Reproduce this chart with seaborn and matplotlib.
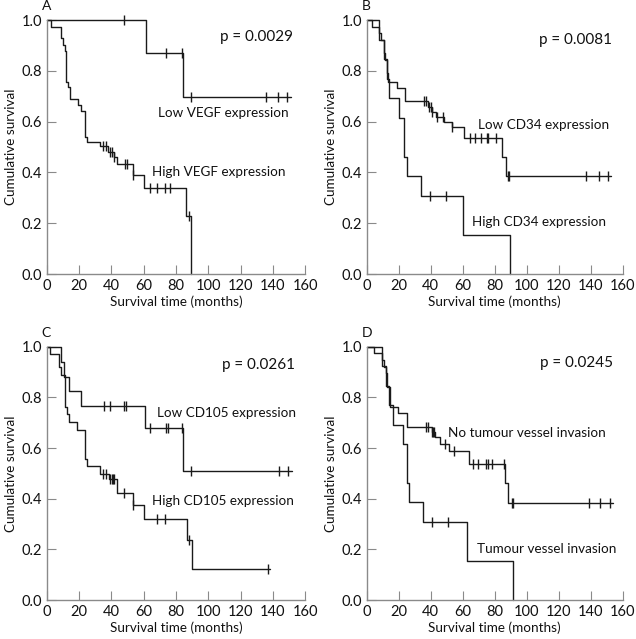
import numpy as np
import pandas as pd
import matplotlib
matplotlib.use("Agg")
import matplotlib.pyplot as plt
import seaborn as sns

# ---------------- data ----------------
# Panel A
a_low_t = [61.3, 84.6]
a_low_s = [0.87, 0.695]
a_low_c = [48, 74, 83.6, 89.4, 135.8, 143.4, 148.6]
a_low_end = 151
a_high_t = [2.9, 8.6, 10.3, 11.3, 11.9, 13.2, 14.4, 19.6, 21.0, 23.7, 24.7, 33.0,
            38.2, 41.5, 43.3, 53.6, 60.2, 86.0, 89.3]
a_high_s = [0.974, 0.93, 0.90, 0.876, 0.757, 0.738, 0.69, 0.665, 0.64, 0.54, 0.52,
            0.505, 0.48, 0.46, 0.433, 0.39, 0.337, 0.228, 0.0]
a_high_c = [35, 36.5, 39.5, 40.5, 41.5, 48.5, 49.9, 53.6, 64, 68.5, 73, 76.4, 88]
a_high_end = 89.3

# Panel B
b_low_t = [3.5, 7.7, 9.0, 10.5, 11.5, 12.5, 13.5, 18.75, 23.9, 38, 41, 43.5, 48,
           53.5, 60.8, 84.4, 87.0]
b_low_s = [0.974, 0.947, 0.92, 0.87, 0.842, 0.79, 0.755, 0.733, 0.683, 0.659, 0.639,
           0.62, 0.60, 0.58, 0.537, 0.46, 0.384]
b_low_c = [35.5, 37, 39, 40, 41, 44, 47.7, 53.5, 64.8, 67.9, 71.7, 74.9, 76, 80.6,
           88.5, 89.1, 137, 145, 151]
b_low_end = 152.7
b_high_t = [7.7, 11.0, 12.5, 14.0, 20.2, 23.5, 25.0, 34.0, 60.4, 89.6]
b_high_s = [0.923, 0.846, 0.769, 0.692, 0.615, 0.462, 0.385, 0.308, 0.154, 0.0]
b_high_c = [39.5, 49.4]
b_high_end = 89.6

# Panel C
c_low_t = [9.0, 10.7, 13.8, 21.0, 61.0, 84.6]
c_low_s = [0.941, 0.882, 0.824, 0.765, 0.68, 0.51]
c_low_c = [35.5, 39.2, 47.9, 48.9, 64, 73.9, 75.3, 83.6, 89.3, 144, 149.6]
c_low_end = 152
c_high_t = [2.0, 7.6, 9.1, 11.1, 12.4, 13.8, 18.6, 23.5, 24.7, 32.8, 38.4, 43.5,
            53.4, 60.2, 86.7, 89.8]
c_high_s = [0.973, 0.92, 0.89, 0.762, 0.735, 0.703, 0.67, 0.558, 0.529, 0.499, 0.478,
            0.421, 0.375, 0.32, 0.237, 0.121]
c_high_c = [34.6, 36.5, 39.4, 40.2, 41.0, 41.7, 47.6, 53.4, 68.5, 73.3, 88.3, 136.8]
c_high_end = 138.3

# Panel D
d_no_t = [4.6, 9.8, 10.8, 11.9, 12.9, 14.5, 19.8, 25.0, 40.5, 42.7, 45.5, 51.5,
          63.8, 86.4, 88.1]
d_no_s = [0.974, 0.947, 0.921, 0.895, 0.84, 0.763, 0.737, 0.684, 0.664, 0.644,
          0.616, 0.59, 0.537, 0.463, 0.384]
d_no_c = [37, 38.5, 40.6, 41.5, 42.3, 48.9, 54.6, 66.6, 69.8, 74.6, 76, 78.1, 85.8,
          90.6, 91.2, 139, 145.8, 152]
d_no_end = 154
d_inv_t = [9.8, 12.0, 13.9, 16.6, 22.9, 25.0, 26.6, 35.4, 62.5, 91.2]
d_inv_s = [0.923, 0.846, 0.769, 0.692, 0.615, 0.46, 0.386, 0.307, 0.154, 0.0]
d_inv_c = [41, 50.6]
d_inv_end = 91.2

panel_letters = ["A", "B", "C", "D"]
p_values = ["p = 0.0029", "p = 0.0081", "p = 0.0261", "p = 0.0245"]
labels_upper = ["Low VEGF expression", "Low CD34 expression",
                "Low CD105 expression", "No tumour vessel invasion"]
labels_lower = ["High VEGF expression", "High CD34 expression",
                "High CD105 expression", "Tumour vessel invasion"]
x_ticks = [0, 20, 40, 60, 80, 100, 120, 140, 160]
y_ticks = [0.0, 0.2, 0.4, 0.6, 0.8, 1.0]

# ---------------- styling ----------------
sns.set_theme(style="ticks")
plt.rcParams["font.family"] = ["Lato", "DejaVu Sans"]
LINE = "#1a1a1a"
SPINE = "#8a8a8a"
TXT = "#111111"
FS = 9.7

W, H = 636, 639
fig = plt.figure(figsize=(W / 100, H / 100), dpi=100)


def make_ax(left, top, bottom, width):
    return fig.add_axes([left / W, (H - bottom) / H, width / W, (bottom - top) / H])


axes = [
    make_ax(46.7, 20, 274, 258.4),
    make_ax(366.7, 20, 274, 256.0),
    make_ax(46.7, 346.7, 600, 258.4),
    make_ax(366.7, 346.7, 600, 256.0),
]


def km(ax, times, surv, cens, end):
    t = [0.0] + list(times)
    s = [1.0] + list(surv)
    if end > t[-1]:
        t.append(end)
        s.append(s[-1])
    df = pd.DataFrame({"t": t, "s": s})
    n0 = len(ax.lines)
    sns.lineplot(data=df, x="t", y="s", drawstyle="steps-post", estimator=None,
                 sort=False, color=LINE, linewidth=1.0, ax=ax)
    for ln in ax.lines[n0:]:
        ln.set_clip_on(False)
    idx = np.searchsorted(np.array(t), np.array(cens), side="right") - 1
    cy = np.array(s)[idx]
    cdf = pd.DataFrame({"t": cens, "s": cy})
    sns.scatterplot(data=cdf, x="t", y="s", marker="|", s=55, linewidth=1.0,
                    color=LINE, ax=ax)
    for c in ax.collections:
        c.set_clip_on(False)


curves = [
    ((a_low_t, a_low_s, a_low_c, a_low_end), (a_high_t, a_high_s, a_high_c, a_high_end)),
    ((b_low_t, b_low_s, b_low_c, b_low_end), (b_high_t, b_high_s, b_high_c, b_high_end)),
    ((c_low_t, c_low_s, c_low_c, c_low_end), (c_high_t, c_high_s, c_high_c, c_high_end)),
    ((d_no_t, d_no_s, d_no_c, d_no_end), (d_inv_t, d_inv_s, d_inv_c, d_inv_end)),
]

# text positions (data coords)
p_pos = [(152.7, 0.932), (153.5, 0.921), (153.7, 0.928), (154, 0.934)]
up_pos = [(69.1, 0.633), (69.4, 0.587), (68.1, 0.737), (50.6, 0.658)]
lo_pos = [(65.0, 0.40), (65.6, 0.206), (65.0, 0.392), (68.8, 0.20)]

for i, ax in enumerate(axes):
    for cv in curves[i]:
        km(ax, *cv)
    ax.set_xlim(0, 160)
    ax.set_ylim(0, 1)
    ax.set_xticks(x_ticks)
    ax.set_xticklabels([str(v) for v in x_ticks])
    ax.set_yticks(y_ticks)
    ax.set_yticklabels([f"{v:.1f}" for v in y_ticks])
    ax.tick_params(direction="in", length=6.5, width=0.8, color=SPINE,
                   labelsize=10.5, pad=3.5, labelcolor=TXT)
    for side in ["top", "right"]:
        ax.spines[side].set_visible(False)
    for side in ["left", "bottom"]:
        ax.spines[side].set_color(SPINE)
        ax.spines[side].set_linewidth(1.0)
    ax.set_xlabel("Survival time (months)", fontsize=FS, labelpad=2, color=TXT)
    ax.set_ylabel("Cumulative survival", fontsize=FS, labelpad=3, color=TXT)
    ax.text(p_pos[i][0], p_pos[i][1], p_values[i], ha="right", va="center",
            fontsize=11, color=TXT)
    ax.text(up_pos[i][0], up_pos[i][1], labels_upper[i], ha="left", va="center",
            fontsize=FS, color=TXT)
    ax.text(lo_pos[i][0], lo_pos[i][1], labels_lower[i], ha="left", va="center",
            fontsize=FS, color=TXT)
    ax.text(-3, 1.03, panel_letters[i], ha="left", va="bottom", fontsize=10,
            color=TXT, transform=ax.transData)

fig.savefig("out.png", dpi=100)
